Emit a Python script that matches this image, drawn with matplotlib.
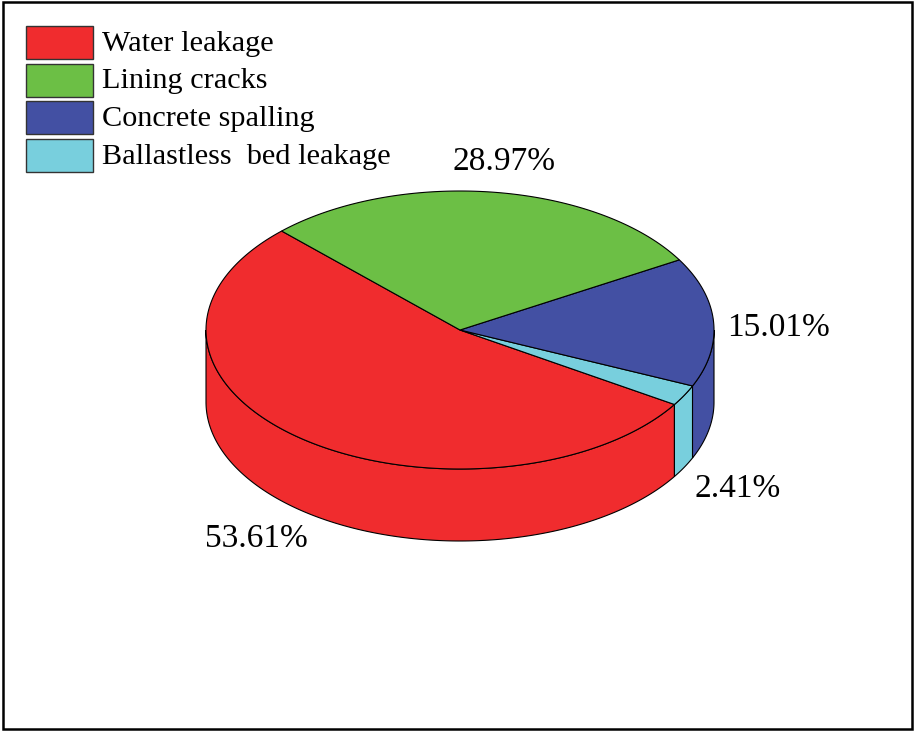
import numpy as np
import matplotlib
matplotlib.use("Agg")
import matplotlib.pyplot as plt
from matplotlib.patches import Polygon, Rectangle

# Defect categories and their shares (%)
categories = ["Water leakage", "Lining cracks", "Concrete spalling", "Ballastless  bed leakage"]
shares = [53.61, 28.97, 15.01, 2.41]
colors = ["#F02C2E", "#6CBF45", "#4350A3", "#78CFDD"]

# Drawing order around the pie (counter-clockwise from the start angle)
draw_order = [0, 3, 2, 1]

W, H = 915, 731
fig = plt.figure(figsize=(W / 100, H / 100), dpi=100)
ax = fig.add_axes([0, 0, 1, 1])
ax.set_xlim(0, W)
ax.set_ylim(H, 0)
ax.axis("off")

plt.rcParams["font.family"] = ["Liberation Serif", "DejaVu Serif"]

# Ellipse geometry of the 3D pie (pixel coordinates, y downward)
cx, cy = 460, 330
rx, ry = 254, 139
depth = 72
start_deg = 134.6
lw = 0.8


def arc(t0, t1, n=200):
    t = np.radians(np.linspace(t0, t1, n))
    return cx + rx * np.cos(t), cy - ry * np.sin(t)


total = sum(shares)
bounds = []
a = start_deg
for i in draw_order:
    span = 360.0 * shares[i] / total
    bounds.append((i, a, a + span))
    a += span

# Side walls: only the front half (parametric angle 180..360) is visible
for i, t0, t1 in bounds:
    for k in (-1, 0, 1):
        lo = max(t0, 180 + 360 * k)
        hi = min(t1, 360 + 360 * k)
        if hi <= lo:
            continue
        xs, ys = arc(lo, hi)
        px = np.concatenate([xs, xs[::-1]])
        py = np.concatenate([ys, ys[::-1] + depth])
        ax.add_patch(Polygon(np.column_stack([px, py]), closed=True,
                             facecolor=colors[i], edgecolor="black",
                             linewidth=lw, zorder=2))

# Top faces
for i, t0, t1 in bounds:
    xs, ys = arc(t0, t1)
    px = np.concatenate([[cx], xs])
    py = np.concatenate([[cy], ys])
    ax.add_patch(Polygon(np.column_stack([px, py]), closed=True,
                         facecolor=colors[i], edgecolor="black",
                         linewidth=lw, zorder=3))

# Percentage labels
label_pos = {0: (256, 539), 1: (504, 162), 2: (778, 328), 3: (738, 489)}
for i, (lx, ly) in label_pos.items():
    ax.text(lx, ly, f"{shares[i]:.2f}%", ha="center", va="center",
            fontsize=24, color="black", zorder=5)

# Legend
for r, i in enumerate(range(len(categories))):
    y0 = 26 + r * 37.5
    ax.add_patch(Rectangle((26, y0), 67, 33, facecolor=colors[i],
                           edgecolor="#333333", linewidth=1.0, zorder=4))
    ax.text(102, y0 + 18, categories[i], ha="left", va="center",
            fontsize=21.8, color="black", zorder=5)

# Outer frame
ax.add_patch(Rectangle((2.5, 2), 909.5, 727, facecolor="none",
                       edgecolor="black", linewidth=1.8, zorder=6))

fig.savefig("out.png", dpi=100)
